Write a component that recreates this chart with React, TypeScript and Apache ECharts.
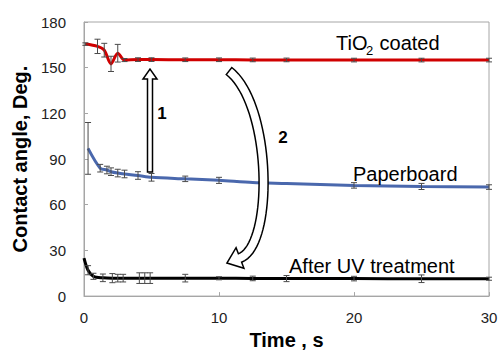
import React, { useEffect, useRef } from "react";
import * as echarts from "echarts";

const tio2Time = [0.1, 1, 1.5, 2, 2.5, 3, 4, 5, 7.5, 10, 12.5, 15, 20, 25, 30];
const tio2Angle = [165.5, 164, 161.5, 152.5, 159.5, 155, 155.3, 155.3, 155.2, 155.2, 155.1, 155.1, 155, 155, 155];
const tio2Err = [0.8, 4.7, 4.5, 5, 5.8, 1, 1.2, 1.2, 1.2, 1.2, 1.2, 1.2, 1.2, 1.2, 1.2];

const paperTime = [0.3, 1.2, 1.7, 2, 2.5, 3, 4, 5, 7.5, 10, 12.5, 15, 20, 25, 30];
const paperAngle = [97, 84, 82.8, 81.7, 80.8, 80.2, 79.2, 78, 77, 76, 74.6, 74, 72.7, 72, 71.6];
const paperErr = [17, 2.5, 2.5, 2.5, 2.5, 2.5, 2.5, 2.5, 1.8, 2, 0, 0, 1.8, 2, 1.5];

const uvTime = [0, 0.3, 0.7, 1.4, 2.1, 2.5, 2.9, 4.1, 4.5, 4.9, 7.5, 10, 12.5, 15, 20, 25, 30];
const uvAngle = [25, 17, 13, 12, 11.8, 11.8, 11.8, 11.8, 11.8, 11.8, 11.8, 11.7, 11.6, 11.5, 11.5, 11.4, 11.4];
const uvErr = [0, 3, 2, 2.5, 3, 2.5, 2.5, 3.5, 3.5, 3.5, 2.5, 1, 1.5, 2, 1.5, 2.5, 1];

const xTicks = { min: 0, max: 30, interval: 10 };
const yTicks = { min: 0, max: 180, interval: 30 };

const FONT = "'Liberation Sans', Arial, sans-serif";

function pairs(t: number[], v: number[]) {
  return t.map((x, i) => [x, v[i]]);
}
function errData(t: number[], v: number[], e: number[]) {
  return t.map((x, i) => [x, v[i] - e[i], v[i] + e[i]]).filter((_, i) => e[i] > 0);
}

function errSeries(data: number[][]) {
  return {
    type: "custom",
    data,
    encode: { x: 0, y: [1, 2] },
    z: 5,
    renderItem: (params: any, api: any) => {
      const x = api.value(0);
      const lo = api.coord([x, api.value(1)]);
      const hi = api.coord([x, api.value(2)]);
      const w = 3;
      const st = { stroke: "#4a4a4a", lineWidth: 1 };
      return {
        type: "group",
        children: [
          { type: "line", shape: { x1: lo[0], y1: lo[1], x2: hi[0], y2: hi[1] }, style: st },
          { type: "line", shape: { x1: lo[0] - w, y1: lo[1], x2: lo[0] + w, y2: lo[1] }, style: st },
          { type: "line", shape: { x1: hi[0] - w, y1: hi[1], x2: hi[0] + w, y2: hi[1] }, style: st },
        ],
      };
    },
  };
}

function curvedArrow() {
  const P0 = [229, 71], P1 = [272, 105], P2 = [274, 245], P3 = [240, 258];
  const bez = (t: number) => {
    const a = (1 - t) ** 3, b = 3 * (1 - t) ** 2 * t, c = 3 * (1 - t) * t * t, d = t ** 3;
    return [a * P0[0] + b * P1[0] + c * P2[0] + d * P3[0], a * P0[1] + b * P1[1] + c * P2[1] + d * P3[1]];
  };
  const der = (t: number) => {
    const a = 3 * (1 - t) ** 2, b = 6 * (1 - t) * t, c = 3 * t * t;
    return [a * (P1[0] - P0[0]) + b * (P2[0] - P1[0]) + c * (P3[0] - P2[0]), a * (P1[1] - P0[1]) + b * (P2[1] - P1[1]) + c * (P3[1] - P2[1])];
  };
  const hw = 4.5;
  const left: number[][] = [], right: number[][] = [];
  const N = 40;
  for (let i = 0; i <= N; i++) {
    const t = i / N;
    const p = bez(t), d = der(t);
    const L = Math.hypot(d[0], d[1]);
    const nx = -d[1] / L, ny = d[0] / L;
    left.push([p[0] + nx * hw, p[1] + ny * hw]);
    right.push([p[0] - nx * hw, p[1] - ny * hw]);
  }
  const d = der(1);
  const L = Math.hypot(d[0], d[1]);
  const ux = d[0] / L, uy = d[1] / L;
  const nx = -uy, ny = ux;
  const hwing = 11, hlen = 14;
  const pts = [
    ...left,
    [P3[0] + nx * hwing, P3[1] + ny * hwing],
    [P3[0] + ux * hlen, P3[1] + uy * hlen],
    [P3[0] - nx * hwing, P3[1] - ny * hwing],
    ...right.reverse(),
  ];
  return pts;
}

export default function App() {
  const ref = useRef<HTMLDivElement>(null);
  useEffect(() => {
    if (!ref.current) return;
    const chart = echarts.init(ref.current, null, { renderer: "svg" });
    const lineStyleBase = { width: 3 };
    chart.setOption({
      animation: false,
      backgroundColor: "#fff",
      grid: { left: 84, right: 12, top: 22, bottom: 54, show: true, borderColor: "#a6a6a6", borderWidth: 1 },
      xAxis: {
        type: "value",
        ...xTicks,
        axisLine: { show: true, lineStyle: { color: "#a6a6a6" } },
        axisTick: { show: true, inside: true, length: 4, lineStyle: { color: "#a6a6a6" } },
        splitLine: { show: false },
        axisLabel: { color: "#222", fontSize: 15, margin: 14, fontFamily: FONT },
        name: "Time , s",
        nameLocation: "middle",
        nameGap: 20,
        nameTextStyle: { fontSize: 20, fontWeight: "bold", color: "#000", fontFamily: FONT, verticalAlign: "top" },
      },
      yAxis: {
        type: "value",
        ...yTicks,
        axisLine: { show: true, lineStyle: { color: "#a6a6a6" } },
        axisTick: { show: true, inside: true, length: 4, lineStyle: { color: "#a6a6a6" } },
        splitLine: { show: false },
        axisLabel: { color: "#222", fontSize: 15, margin: 18, fontFamily: FONT },
        name: "Contact angle, Deg.",
        nameLocation: "middle",
        nameGap: 50,
        nameTextStyle: { fontSize: 20, fontWeight: "bold", color: "#000", fontFamily: FONT },
      },
      series: [
        { type: "line", data: pairs(tio2Time, tio2Angle), smooth: 0.3, showSymbol: false, lineStyle: { ...lineStyleBase, color: "#d00000" }, itemStyle: { color: "#d00000" } },
        { type: "line", data: pairs(paperTime, paperAngle), smooth: 0.3, showSymbol: false, lineStyle: { ...lineStyleBase, color: "#4a68ad" }, itemStyle: { color: "#4a68ad" } },
        { type: "line", data: pairs(uvTime, uvAngle), smooth: 0.3, showSymbol: false, lineStyle: { ...lineStyleBase, color: "#000" }, itemStyle: { color: "#000" } },
        errSeries(errData(tio2Time, tio2Angle, tio2Err)),
        errSeries(errData(paperTime, paperAngle, paperErr)),
        errSeries(errData(uvTime, uvAngle, uvErr)),
      ],
      graphic: [
        {
          type: "polygon",
          z: 10,
          shape: { points: [[147.5, 172], [147.5, 79], [143, 79], [150, 69], [157, 79], [152.5, 79], [152.5, 172]] },
          style: { fill: "#fff", stroke: "#000", lineWidth: 1.5 },
        },
        {
          type: "polygon",
          z: 10,
          shape: { points: curvedArrow() },
          style: { fill: "#fff", stroke: "#000", lineWidth: 1.5 },
        },
        { type: "text", z: 11, x: 162, y: 113, style: { text: "1", font: `bold 17px ${FONT}`, fill: "#000", align: "center", verticalAlign: "middle" } },
        { type: "text", z: 11, x: 283, y: 137, style: { text: "2", font: `bold 17px ${FONT}`, fill: "#000", align: "center", verticalAlign: "middle" } },
        { type: "text", z: 11, x: 336, y: 43, style: { text: "TiO", font: `20px ${FONT}`, fill: "#000", align: "left", verticalAlign: "middle" } },
        { type: "text", z: 11, x: 366, y: 50, style: { text: "2", font: `13px ${FONT}`, fill: "#000", align: "left", verticalAlign: "middle" } },
        { type: "text", z: 11, x: 374, y: 43, style: { text: " coated", font: `20px ${FONT}`, fill: "#000", align: "left", verticalAlign: "middle" } },
        { type: "text", z: 11, x: 353, y: 174, style: { text: "Paperboard", font: `20px ${FONT}`, fill: "#000", align: "left", verticalAlign: "middle" } },
        { type: "text", z: 11, x: 289, y: 266, style: { text: "After UV treatment", font: `20px ${FONT}`, fill: "#000", align: "left", verticalAlign: "middle" } },
      ],
    });
    return () => chart.dispose();
  }, []);
  return <div ref={ref} style={{ position: "fixed", left: 0, top: 0, width: 501, height: 355 }} />;
}
